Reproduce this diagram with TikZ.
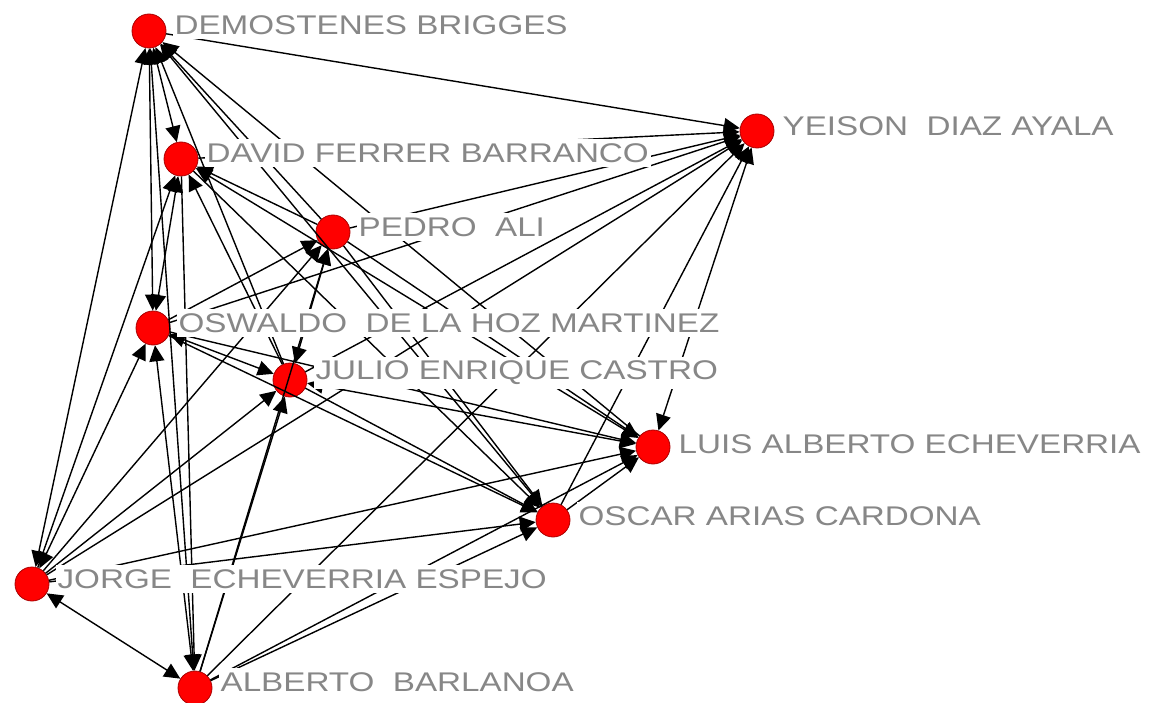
\documentclass[tikz,border=0pt]{standalone}
\usepackage{fontspec}
\newfontfamily\namefont[FakeStretch=1.23]{Liberation Sans}
\usetikzlibrary{arrows.meta,positioning}

\begin{document}
\begin{tikzpicture}[x=1pt, y=-1pt, >={Triangle[length=16pt,width=15pt]},
	actor/.style={circle, fill=red, draw={rgb,255:red,170;green,0;blue,0}, line width=0.8pt, minimum size=34pt, inner sep=0pt},
	nametext/.style={rectangle, fill=white, inner xsep=2pt, inner ysep=4pt, text={rgb,255:red,135;green,135;blue,135}, font=\namefont\fontsize{27}{27}\selectfont},
	every edge/.append style={draw=black, line width=1.4pt}]
			\useasboundingbox (0,0) rectangle (1155,703);
			
			\node[actor] (d) at (149,31){};
			\node[actor] (y) at (757,131){};
			\node[actor] (f) at (181,159){};
			\node[actor] (p) at (333,232){};
			\node[actor] (o) at (153,328){};
			\node[actor] (j) at (290,380){};
			\node[actor] (l) at (653,447){};
			\node[actor] (c) at (553,520){};
			\node[actor] (e) at (32,584){};
			\node[actor] (a) at (195,688){};
			
			\path (d) edge[->] (y);
			\path (d) edge[<->] (f);
			\path (p) edge[->] (d);
			\path (d) edge[<->] (o);
			\path (j) edge[->] (d);
			\path (l) edge[->] (d);
			\path (c) edge[->] (d);
			\path (d) edge[<->] (e);
			\path (d) edge[<->] (a);
			
			\path (f) edge[->] (y);
			\path (p) edge[->] (y);
			\path (o) edge[->] (y);
			\path (j) edge[->] (y);
			\path (y) edge[<->] (l);
			\path (c) edge[->] (y);
			\path (e) edge[->] (y);
			\path (a) edge[->] (y);
			
			\path (p) edge[->] (f);
			\path (f) edge[<->] (o);
			\path (j) edge[->] (f);
			\path (f) edge[<->] (l);
			\path (f) edge[->] (c);
			\path (e) edge[->] (f);
			\path (f) edge[->] (a);
			
			\path (o) edge[->] (p);
			\path (p) edge[<->] (j);
			\path (p) edge[->] (l);
			\path (p) edge[->] (c);
			\path (e) edge[->] (p);
			\path (a) edge[->] (p);
			
			\path (o) edge[<->] (j);
			\path (o) edge[->] (l);
			\path (o) edge[->] (c);
			\path (o) edge[<->] (e);
			\path (o) edge[<->] (a);
			
			\path (j) edge[<->] (l);
			\path (j) edge[->] (c);
			\path (e) edge[->] (j);
			\path (a) edge[->] (j);
			
			\path (c) edge[->] (l);
			\path (e) edge[->] (l);
			\path (a) edge[->] (l);
			\path (e) edge[->] (c);
			\path (a) edge[->] (c);
			\path (e) edge[<->] (a);
			
			\node[nametext, right=6pt of d, yshift=6pt] (dname){DEMOSTENES BRIGGES};
			\node[nametext, right=6pt of y, yshift=5pt] (yname){YEISON\ \ DIAZ AYALA};
			\node[nametext, right=6pt of f, yshift=6pt] (fname){DAVID FERRER BARRANCO};
			\node[nametext, right=6pt of p, yshift=5pt] (pname){PEDRO\ \ ALI};
			\node[nametext, right=6pt of o, yshift=5pt] (oname){OSWALDO\ \ DE LA HOZ MARTINEZ};
			\node[nametext, right=6pt of j, yshift=7pt] (jname){JULIO ENRIQUE CASTRO};
			\node[nametext, right=6pt of l, yshift=3pt] (lname){LUIS ALBERTO ECHEVERRIA};
			\node[nametext, right=6pt of c, yshift=4pt] (cname){OSCAR ARIAS CARDONA};
			\node[nametext, right=6pt of e, yshift=5pt] (ename){JORGE\ \ ECHEVERRIA ESPEJO};
			\node[nametext, right=6pt of a, yshift=6pt] (aname){ALBERTO\ \ BARLANOA};
			\end{tikzpicture}
\end{document}
